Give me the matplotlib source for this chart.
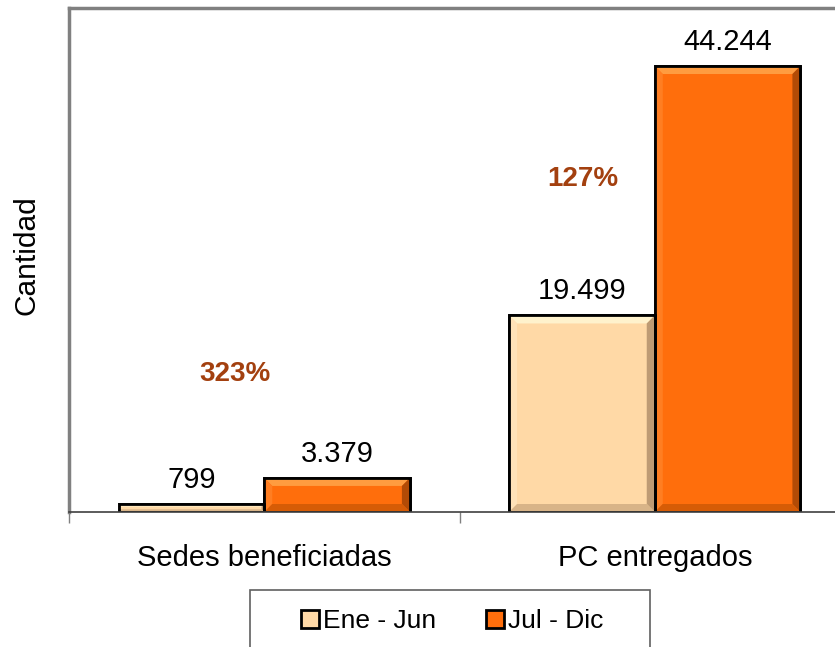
import matplotlib
matplotlib.use("Agg")
import matplotlib.pyplot as plt
from matplotlib.patches import Patch, Polygon, Rectangle
import numpy as np

plt.rcParams['font.family'] = ['Liberation Sans', 'DejaVu Sans']

categories = ["Sedes beneficiadas", "PC entregados"]
series_names = ["Ene - Jun", "Jul - Dic"]
ene_jun = [799, 19499]
jul_dic = [3379, 44244]
value_labels = [["799", "19.499"], ["3.379", "44.244"]]
growth = ["323%", "127%"]

colors = ["#FFD9A6", "#FF6E0C"]
# bevel shades: top, left, right, bottom
bevels = [["#FFF2CC", "#FFE2B8", "#BE9B74", "#D8B488"],
          ["#FF9C40", "#FF7E22", "#B24B06", "#D65C06"]]
pct_color = "#A3400F"

fig = plt.figure(figsize=(8.35, 6.47), dpi=100)
ax_px = (69, 512, 781, 504)  # left, bottom (from top), width, height in px
ax = fig.add_axes([ax_px[0] / 835, 1 - ax_px[1] / 647, ax_px[2] / 835, ax_px[3] / 647])

ymax = 50000
x = np.arange(len(categories))
w = 0.373
series = [ene_jun, jul_dic]
px_x = ax_px[2] / len(categories)  # px per x unit
px_y = ax_px[3] / ymax             # px per y unit
for i, vals in enumerate(series):
    pos = x + (i - 0.5) * w
    ax.bar(pos, vals, width=w, color=colors[i], edgecolor="black",
           linewidth=2, zorder=3)
    # simple bevel look
    for p, v in zip(pos, vals):
        d_px = min(8, v * px_y / 3)
        dx, dy = d_px / px_x, d_px / px_y
        x0, x1, y0, y1 = p - w / 2, p + w / 2, 0, v
        polys = [
            [(x0, y1), (x1, y1), (x1 - dx, y1 - dy), (x0 + dx, y1 - dy)],
            [(x0, y0), (x0, y1), (x0 + dx, y1 - dy), (x0 + dx, y0 + dy)],
            [(x1, y1), (x1, y0), (x1 - dx, y0 + dy), (x1 - dx, y1 - dy)],
            [(x0, y0), (x1, y0), (x1 - dx, y0 + dy), (x0 + dx, y0 + dy)],
        ]
        for poly, c in zip(polys, bevels[i]):
            ax.add_patch(Polygon(poly, closed=True, facecolor=c,
                                 edgecolor="none", zorder=3.5))
        ax.add_patch(Rectangle((x0, y0), w, v, fill=False, edgecolor="black",
                               linewidth=2, zorder=3.6))
    for p, v, lab in zip(pos, vals, value_labels[i]):
        ax.annotate(lab, (p, v), xytext=(0, 11.5), textcoords="offset points",
                    ha="center", va="baseline", fontsize=21, color="black")

# growth percentages between the two periods
for xi, g, yv in zip(x, growth, [13700, 33000]):
    ax.text(xi - 0.075 if xi == 0 else xi - 0.185, yv, g, ha="center",
            va="center", fontsize=20, fontweight="bold", color=pct_color)

ax.set_xlim(-0.5, len(categories) - 0.5)
ax.set_ylim(0, ymax)
ax.set_yticks([])

ax.set_xticks(np.arange(-0.5, len(categories)), labels=[])
ax.set_xticks(x, labels=categories, minor=True)
ax.tick_params(axis="x", which="major", length=8, width=1, color="#808080",
               direction="out")
ax.tick_params(axis="x", which="minor", length=0, pad=23, labelsize=21)

for s in ["left", "top"]:
    ax.spines[s].set_color("#808080")
    ax.spines[s].set_linewidth(2.5)
ax.spines["right"].set_visible(False)
ax.spines["bottom"].set_color("#404040")
ax.spines["bottom"].set_linewidth(1.2)
ax.spines["bottom"].set_zorder(4)

ax.set_ylabel("Cantidad", fontsize=21.5)
ax.yaxis.set_label_coords(-0.037, 0.51)

handles = [Patch(facecolor=c, edgecolor="black", linewidth=2) for c in colors]
leg = fig.legend(handles, series_names, loc="center left",
                 bbox_to_anchor=(301 / 835, 1 - 621 / 647), ncol=2,
                 fontsize=19, frameon=False,
                 handlelength=0.68, handleheight=0.68, handletextpad=0.15,
                 columnspacing=1.9, borderpad=0, borderaxespad=0)
fig.add_artist(Rectangle((250 / 835, -0.01), 400 / 835, 57 / 647 + 0.01,
                         transform=fig.transFigure, fill=False,
                         edgecolor="#606060", linewidth=1.2))

fig.savefig("out.png", dpi=100)
